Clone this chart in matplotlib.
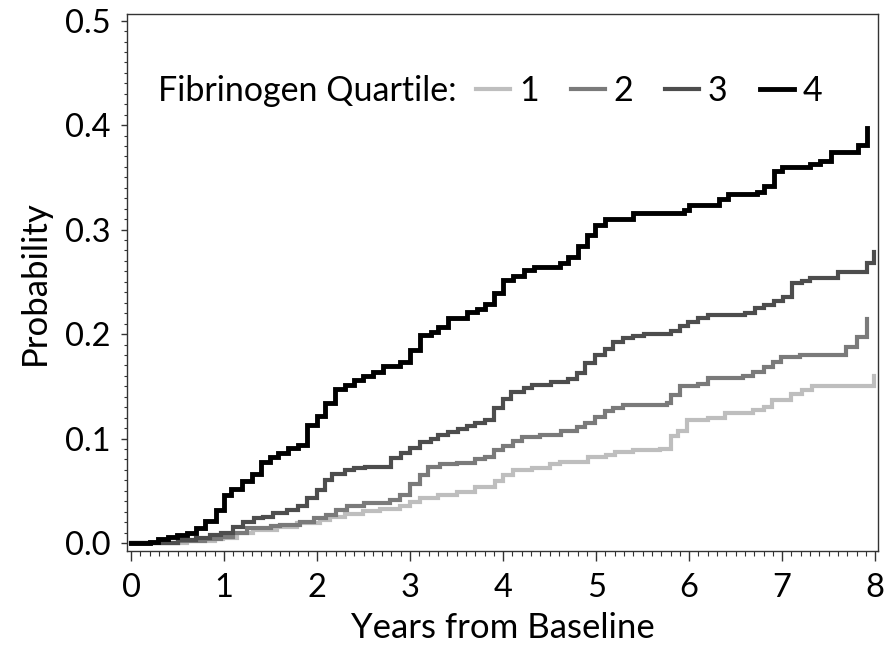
import matplotlib
matplotlib.use("Agg")
import matplotlib.pyplot as plt
from matplotlib.ticker import MultipleLocator, FormatStrFormatter

plt.rcParams['font.family'] = ['Lato', 'DejaVu Sans']

# Quartile 1 (lowest fibrinogen)
q1_t = [0, 0.6, 0.9, 0.99, 1.14, 1.31, 1.57, 1.78, 2.03, 2.14, 2.30, 2.49, 2.68, 2.89,
        3.0, 3.11, 3.30, 3.50, 3.70, 3.91, 4.00, 4.11, 4.31, 4.50, 4.61, 4.91, 5.11,
        5.20, 5.40, 5.69, 5.80, 5.88, 5.98, 6.20, 6.39, 6.69, 6.80, 6.89, 7.09, 7.21,
        7.32, 7.99]
q1_p = [0, .002, .004, .005, .010, .012, .015, .019, .022, .025, .028, .031, .033, .035,
        .039, .043, .046, .049, .054, .059, .065, .070, .072, .076, .078, .082, .084,
        .087, .089, .090, .102, .107, .118, .120, .124, .127, .130, .137, .143, .146,
        .150, .160]

# Quartile 2
q2_t = [0, 0.5, 0.8, 0.97, 1.1, 1.25, 1.5, 1.6, 1.82, 1.97, 2.1, 2.2, 2.32, 2.5, 2.78,
        2.89, 3.0, 3.11, 3.19, 3.32, 3.50, 3.70, 3.80, 3.90, 4.00, 4.11, 4.20, 4.4,
        4.62, 4.79, 4.88, 4.99, 5.10, 5.18, 5.29, 5.76, 5.81, 5.90, 6.10, 6.20, 6.58,
        6.69, 6.80, 6.90, 6.99, 7.19, 7.69, 7.80, 7.91]
q2_p = [0, .002, .004, .006, .010, .014, .016, .017, .020, .024, .027, .032, .035, .038,
        .041, .046, .056, .065, .073, .076, .077, .080, .082, .089, .093, .098, .101,
        .103, .107, .111, .115, .121, .126, .129, .132, .134, .142, .150, .152, .158,
        .160, .164, .168, .173, .178, .180, .188, .197, .214]

# Quartile 3
q3_t = [0, 0.5, 0.7, 0.85, 0.97, 1.1, 1.2, 1.32, 1.42, 1.53, 1.68, 1.79, 1.89, 2.0,
        2.08, 2.16, 2.30, 2.40, 2.51, 2.80, 2.90, 3.0, 3.11, 3.22, 3.30, 3.41, 3.52,
        3.61, 3.70, 3.81, 3.90, 4.00, 4.09, 4.22, 4.31, 4.51, 4.70, 4.79, 4.88, 4.99,
        5.10, 5.18, 5.29, 5.40, 5.51, 5.80, 5.90, 5.99, 6.10, 6.20, 6.60, 6.71, 6.80,
        6.91, 7.01, 7.11, 7.21, 7.30, 7.60, 7.91, 7.99]
q3_p = [0, .003, .005, .008, .010, .015, .020, .024, .025, .029, .032, .035, .043, .051,
        .060, .066, .070, .072, .073, .081, .086, .091, .097, .100, .1035, .1065, .109,
        .112, .115, .118, .129, .138, .145, .148, .151, .154, .157, .163, .172, .180,
        .186, .192, .196, .198, .200, .203, .208, .212, .215, .218, .220, .225, .228,
        .232, .235, .249, .251, .254, .259, .268, .279]

# Quartile 4 (highest fibrinogen)
q4_t = [0, 0.20, 0.29, 0.40, 0.49, 0.60, 0.70, 0.80, 0.91, 1.00, 1.08, 1.19, 1.30, 1.40,
        1.49, 1.58, 1.69, 1.80, 1.89, 2.00, 2.09, 2.19, 2.30, 2.40, 2.49, 2.60, 2.71,
        2.89, 3.00, 3.11, 3.22, 3.30, 3.41, 3.61, 3.72, 3.81, 3.90, 4.00, 4.11, 4.22,
        4.33, 4.61, 4.70, 4.81, 4.90, 4.99, 5.10, 5.40, 5.94, 6.00, 6.32, 6.42, 6.73,
        6.80, 6.91, 7.00, 7.30, 7.41, 7.52, 7.82, 7.91]
q4_p = [0, .001, .0035, .006, .008, .010, .014, .021, .032, .046, .052, .059, .066, .078,
        .082, .086, .091, .094, .113, .122, .134, .147, .151, .156, .160, .164, .169,
        .1735, .185, .199, .202, .207, .215, .221, .224, .229, .239, .252, .256, .261,
        .264, .268, .274, .284, .295, .304, .310, .3155, .319, .324, .329, .334, .336,
        .342, .356, .3595, .363, .366, .3745, .381, .397]

series = [(q1_t, q1_p, '1', '#BEBEBE', 3.0),
          (q2_t, q2_p, '2', '#7A7A7A', 3.0),
          (q3_t, q3_p, '3', '#4D4D4D', 3.0),
          (q4_t, q4_p, '4', '#000000', 3.5)]

x_ticks = [0, 1, 2, 3, 4, 5, 6, 7, 8]
y_ticks = [0.0, 0.1, 0.2, 0.3, 0.4, 0.5]

fig = plt.figure(figsize=(8.84, 6.45), dpi=100)
ax = fig.add_axes([0.1437, 0.1457, 0.8495, 0.8326])

for t, p, lab, col, lw in series:
    ax.step(t, p, where='post', color=col, lw=lw, label=lab, solid_joinstyle='miter')

ax.set_xlim(-0.043, 8.03)
ax.set_ylim(-0.0077, 0.5064)
ax.set_xticks(x_ticks)
ax.set_yticks(y_ticks)
ax.yaxis.set_major_formatter(FormatStrFormatter('%.1f'))
ax.xaxis.set_minor_locator(MultipleLocator(0.1))
ax.yaxis.set_minor_locator(MultipleLocator(0.01))

for s in ax.spines.values():
    s.set_color('#333333')
    s.set_linewidth(1.0)

ax.tick_params(axis='x', which='major', length=7, width=1, color='#333333',
               labelsize=23.5, pad=9)
ax.tick_params(axis='x', which='minor', length=3.5, width=0.8, color='#333333')
ax.tick_params(axis='y', which='major', length=4, width=1, color='#333333',
               labelsize=23.5, pad=8)
ax.tick_params(axis='y', which='minor', length=2, width=0.8, color='#333333')

ax.set_xlabel('Years from Baseline', fontsize=25, labelpad=6)
ax.set_ylabel('Probability', fontsize=25, labelpad=10)

ax.text(0.041, 0.857, 'Fibrinogen Quartile:', transform=ax.transAxes, fontsize=24.5,
        va='center', ha='left')
leg = ax.legend(loc='center left', bbox_to_anchor=(0.465, 0.857), ncol=4, frameon=False,
                fontsize=24.5, handlelength=1.0, handletextpad=0.25, columnspacing=0.95,
                borderaxespad=0, borderpad=0)

fig.savefig('out.png', dpi=100)
